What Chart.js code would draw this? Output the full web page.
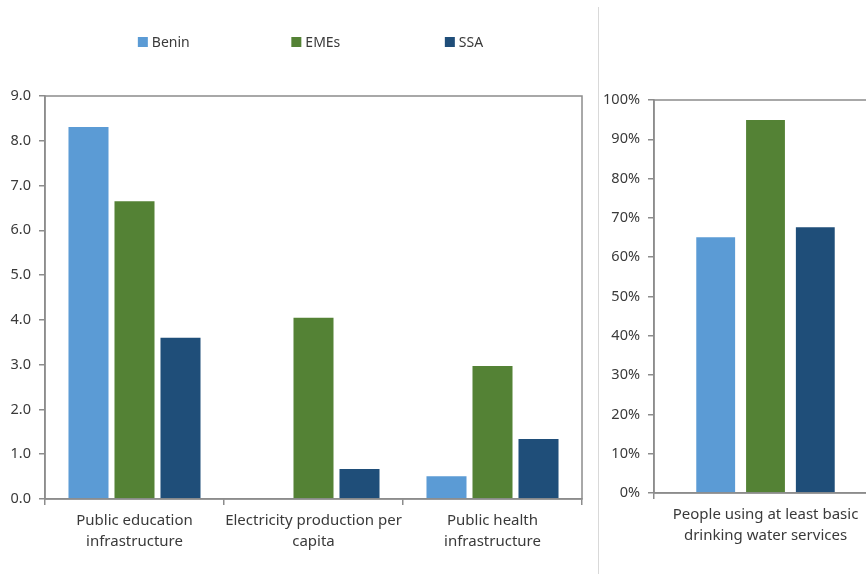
<!DOCTYPE html>
<html>
<head>
<meta charset="utf-8">
<script src="https://cdn.jsdelivr.net/npm/chart.js@4.4.1/dist/chart.umd.min.js"></script>
<style>
  html, body { margin: 0; padding: 0; background: #ffffff; }
  body { width: 866px; height: 574px; position: relative; overflow: hidden; }
  #leftWrap { position: absolute; left: 0; top: 0; width: 598px; height: 574px; }
  #rightWrap { position: absolute; left: 599px; top: 0; width: 290px; height: 574px; }
  #divider { position: absolute; left: 598px; top: 7px; width: 1px; height: 567px; background: #d9d9d9; }
</style>
</head>
<body>
<div id="leftWrap"><canvas id="infra"></canvas></div>
<div id="divider"></div>
<div id="rightWrap"><canvas id="water"></canvas></div>
<script>
// Infrastructure indicators (left panel)
const categories = [
  ["Public education", "infrastructure"],
  ["Electricity production per", "capita"],
  ["Public health", "infrastructure"]
];
const beninValues = [8.31, null, 0.51];
const emesValues  = [6.65, 4.05, 2.97];
const ssaValues   = [3.60, 0.67, 1.34];
const leftTicks = { min: 0, max: 9, step: 1 };

// Drinking water access, percent of population (right panel)
const waterCategory = [["People using at least basic", "drinking water services"]];
const waterBenin = [65.1];
const waterEMEs  = [94.9];
const waterSSA   = [67.6];
const rightTicks = { min: 0, max: 100, step: 10 };

const seriesNames  = ["Benin", "EMEs", "SSA"];
const seriesColors = ["#5b9bd5", "#548235", "#1f4e79"];

const FONT = "'Noto Sans', 'DejaVu Sans', sans-serif";
const TEXT = "#3a3a3a";
const AXIS = "#8c8c8c";

Chart.defaults.font.family = FONT;
Chart.defaults.color = TEXT;
Chart.defaults.animation = false;

// Outline of the plot area (Excel-style box)
const frame = {
  id: 'frame',
  afterDraw(chart) {
    const a = chart.chartArea, ctx = chart.ctx;
    ctx.save();
    ctx.strokeStyle = AXIS;
    ctx.lineWidth = 1.5;
    ctx.strokeRect(a.left, a.top, a.right - a.left, a.bottom - a.top);
    ctx.restore();
  }
};

// Legend row above the left panel: equal-width columns, centred on the plot area
const spreadLegend = {
  id: 'spreadLegend',
  afterDraw(chart, args, opts) {
    const ctx = chart.ctx, a = chart.chartArea;
    const ds = chart.data.datasets;
    ctx.save();
    ctx.font = '14px ' + FONT;
    ctx.textBaseline = 'middle';
    const box = 10, gapText = 4, col = opts.column;
    const lastW = box + gapText + ctx.measureText(ds[ds.length - 1].label).width;
    const total = col * (ds.length - 1) + lastW;
    const x0 = (a.left + a.right) / 2 - total / 2 + opts.shift;
    const y = opts.y;
    ds.forEach((d, i) => {
      const x = x0 + i * col;
      ctx.fillStyle = d.backgroundColor;
      ctx.fillRect(x, y - box / 2, box, box);
      ctx.fillStyle = TEXT;
      ctx.fillText(d.label, x + box + gapText, y + 1);
    });
    ctx.restore();
  }
};

function axisX(height) {
  return {
    offset: true,
    grid: { display: true, drawOnChartArea: false, drawTicks: true, tickLength: 6, color: AXIS, lineWidth: 1.5, offset: true },
    border: { display: true, color: AXIS, width: 1.5 },
    ticks: { font: { size: 15, lineHeight: 1.42 }, color: TEXT, padding: 5, maxRotation: 0, autoSkip: false },
    afterFit(s) { s.height = height; }
  };
}

function axisY(t, width, fmt) {
  return {
    min: t.min, max: t.max,
    grid: { display: true, drawOnChartArea: false, drawTicks: true, tickLength: 6, color: AXIS, lineWidth: 1.5 },
    border: { display: true, color: AXIS, width: 1.5 },
    ticks: { stepSize: t.step, font: { size: 14.5 }, color: TEXT, padding: 8, callback: fmt },
    afterFit(s) { s.width = width; }
  };
}

function datasets(vals, barPct, catPct) {
  return vals.map((v, i) => ({
    label: seriesNames[i],
    data: v,
    backgroundColor: seriesColors[i],
    borderWidth: 0,
    barPercentage: barPct,
    categoryPercentage: catPct
  }));
}

new Chart(document.getElementById('infra'), {
  type: 'bar',
  data: {
    labels: categories,
    datasets: datasets([beninValues, emesValues, ssaValues], 0.87, 0.771)
  },
  options: {
    responsive: true,
    maintainAspectRatio: false,
    layout: { padding: { top: 96, right: 16, left: 0, bottom: 0 } },
    plugins: {
      legend: { display: false },
      tooltip: { enabled: false },
      spreadLegend: { column: 153.5, y: 42, shift: -3 }
    },
    scales: {
      x: axisX(75),
      y: axisY(leftTicks, 45, v => Number(v).toFixed(1))
    }
  },
  plugins: [frame, spreadLegend]
});

new Chart(document.getElementById('water'), {
  type: 'bar',
  data: {
    labels: waterCategory,
    datasets: datasets([waterBenin, waterEMEs, waterSSA], 0.78, 0.67)
  },
  options: {
    responsive: true,
    maintainAspectRatio: false,
    layout: { padding: { top: 100, right: 12, left: 0, bottom: 0 } },
    plugins: {
      legend: { display: false },
      tooltip: { enabled: false }
    },
    scales: {
      x: axisX(81),
      y: axisY(rightTicks, 55, v => v + '%')
    }
  },
  plugins: [frame]
});
</script>
</body>
</html>
